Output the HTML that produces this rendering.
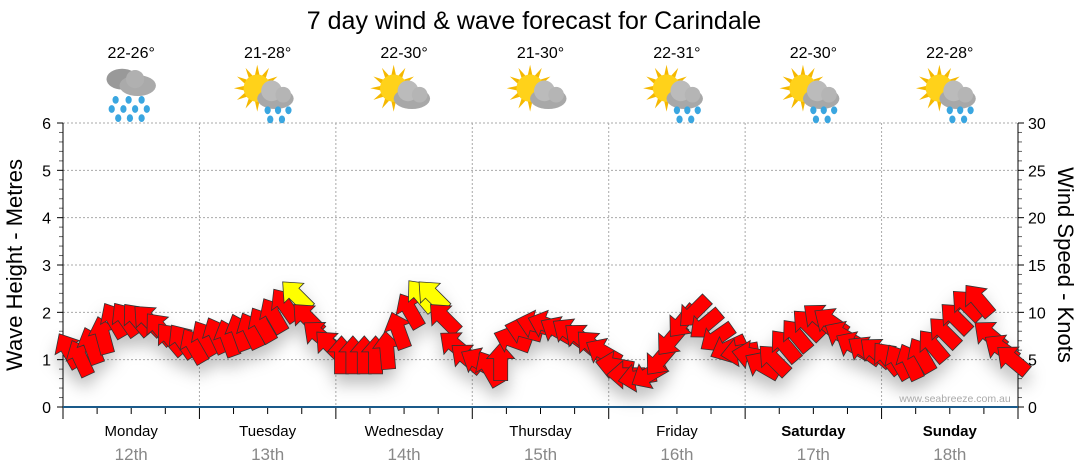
<!DOCTYPE html>
<html><head><meta charset="utf-8">
<style>
body{margin:0;background:#fff;}
svg{display:block;font-family:"Liberation Sans",sans-serif;}
</style></head>
<body>
<svg id="chart" width="1080" height="475" viewBox="0 0 1080 475">
<text x="534" y="29" font-size="25" text-anchor="middle">7 day wind &amp; wave forecast for Carindale</text>
<g id="grid"></g>
<g id="axes"></g>
<g id="icons"></g>
<g id="arrows" style="filter:drop-shadow(0 10px 8px rgba(0,0,0,0.25))"></g>
<text x="955" y="402" font-size="10.5" fill="#aaa" text-anchor="middle">www.seabreeze.com.au</text>
<text transform="translate(22,265) rotate(-90)" font-size="22" text-anchor="middle">Wave Height - Metres</text>
<text transform="translate(1058,265) rotate(90)" font-size="22" text-anchor="middle">Wind Speed - Knots</text>
</svg>
<script>
const days=["Monday","Tuesday","Wednesday","Thursday","Friday","Saturday","Sunday"];
const dates=["12th","13th","14th","15th","16th","17th","18th"];
const temps=["22-26°","21-28°","22-30°","21-30°","22-31°","22-30°","22-28°"];
const iconTypes=["rain","sunrain","suncloud","suncloud","sunrain","sunrain","sunrain"];
const leftTicks=[0,1,2,3,4,5,6];
const rightTicks=[0,5,10,15,20,25,30];
const windSpeed=[
6.0,5.2,6.5,7.6,9.2,9.3,9.3,9.2,8.3,7.2,7.0,6.5,
7.3,7.6,7.3,7.9,8.1,8.7,9.7,10.8,11.8,9.4,7.6,6.5,
5.5,5.5,5.5,5.5,6.0,8.1,10.2,11.8,11.8,9.4,6.5,5.2,
4.8,4.1,4.8,7.1,8.1,8.7,8.7,8.1,7.9,7.3,6.5,5.8,
4.4,3.4,3.1,3.4,5.0,7.1,9.0,10.0,8.7,7.3,6.2,5.8,
5.5,4.4,5.0,6.5,7.6,8.7,9.4,9.0,7.6,6.5,6.0,5.8,
5.2,4.8,4.8,5.5,6.5,7.9,9.4,10.8,11.3,7.6,6.2,5.0];
const windDir=[
-30,-25,-20,-15,-30,-35,-40,-45,-40,-40,-35,-30,
-30,-25,-20,-20,-25,-30,-30,-35,-45,-45,-50,-45,
0,0,0,0,-5,-20,-30,-40,-45,-45,-50,-50,
-60,-30,0,-70,-75,-75,-70,-60,-55,-50,-45,-60,
-80,-90,-100,-120,-140,-140,-140,-135,-130,-125,-115,-100,
-80,-60,-45,-40,-40,-45,-50,-55,-60,-60,-55,-50,
-40,-30,-25,-30,-40,-45,-45,-45,-40,-50,-55,-50];

const NS="http://www.w3.org/2000/svg";
const X0=63,X1=1018,Y0=407,Y1=123;
const dayW=(X1-X0)/7;
const perDay=12;
const yM=v=>Y0-(v/6)*(Y0-Y1);
const yK=v=>Y0-(v/30)*(Y0-Y1);
const xT=i=>X0+(i+0.5)*dayW/perDay;
function mk(tag,attrs,parent){const e=document.createElementNS(NS,tag);for(const k in attrs)e.setAttribute(k,attrs[k]);parent.appendChild(e);return e;}
const grid=document.getElementById('grid'),axes=document.getElementById('axes'),icons=document.getElementById('icons'),arrows=document.getElementById('arrows');

leftTicks.forEach(v=>{
  if(v>0){const l=mk('line',{x1:X0,x2:X1,y1:yM(v),y2:yM(v),stroke:'#aaa','stroke-dasharray':'2,2'},grid);
  
  }
  const t=mk('text',{x:X0-12,y:yM(v)+6,'font-size':16,'text-anchor':'end'},axes);t.textContent=v;
  
  
});
rightTicks.forEach(v=>{
  const t=mk('text',{x:X1+10,y:yK(v)+6,'font-size':16},axes);t.textContent=v;
  
  
});
for(let i=0;i<=30;i++){
  const y=Y0-i*(Y0-Y1)/30;const major=i%5==0;
  mk('line',{x1:X0-(major?6:4),x2:X0,y1:y,y2:y,stroke:major?'#000':'#666'},axes);
  mk('line',{x1:X1,x2:X1+(major?6:4),y1:y,y2:y,stroke:major?'#000':'#666'},axes);
}
mk('line',{x1:X0,x2:X0,y1:Y1,y2:Y0,stroke:'#000'},axes);
mk('line',{x1:X1,x2:X1,y1:Y1,y2:Y0,stroke:'#000'},axes);
for(let d=0;d<=7;d++){
  const x=X0+d*dayW;
  if(d>0&&d<7){const g=mk('line',{x1:x,x2:x,y1:Y1,y2:Y0,stroke:'#aaa','stroke-dasharray':'2,2'},grid);
  
  }
  mk('line',{x1:x,x2:x,y1:Y0,y2:Y0+12,stroke:'#000'},axes);
  if(d<7)for(let q=1;q<4;q++)mk('line',{x1:x+q*dayW/4,x2:x+q*dayW/4,y1:Y0,y2:Y0+7,stroke:'#000'},axes);
}
mk('line',{x1:X0,x2:X1,y1:Y0,y2:Y0,stroke:'#1a5a8a','stroke-width':2},axes);

days.forEach((d,i)=>{
  const cx=X0+(i+0.5)*dayW;
  const bold=i>=5;
  const t=mk('text',{x:cx,y:436,'font-size':15,'text-anchor':'middle','font-weight':bold?'bold':'normal'},axes);t.textContent=d;
  
  
  const t2=mk('text',{x:cx,y:460,'font-size':17,'text-anchor':'middle',fill:'#888'},axes);t2.textContent=dates[i];
  
  
  const t3=mk('text',{x:cx,y:58,'font-size':16,'text-anchor':'middle'},icons);t3.textContent=temps[i];
  
  
  const g=mk('g',{transform:`translate(${cx},96) scale(1.3)`},icons);
  
  
  const type=iconTypes[i];
  if(type!=='rain'){
    const sx=-8,sy=-6;
    for(let r=0;r<12;r++){const a=r*Math.PI/6;
      mk('polygon',{points:`${sx+Math.cos(a-0.18)*10},${sy+Math.sin(a-0.18)*10} ${sx+Math.cos(a)*18},${sy+Math.sin(a)*18} ${sx+Math.cos(a+0.18)*10},${sy+Math.sin(a+0.18)*10}`,fill:'#f5b800'},g);}
    mk('circle',{cx:sx,cy:sy,r:10.5,fill:'#ffd21a'},g);
    mk('ellipse',{cx:6,cy:2,rx:14,ry:8,fill:'#a8a8a8'},g);
    mk('circle',{cx:3,cy:-4,r:8,fill:'#bbb'},g);
    mk('circle',{cx:12,cy:-1,r:6,fill:'#b5b5b5'},g);
  } else {
    mk('ellipse',{cx:-7,cy:-13,rx:12,ry:8,fill:'#999'},g);
    mk('ellipse',{cx:5,cy:-8,rx:14,ry:8,fill:'#aaa'},g);
    mk('circle',{cx:3,cy:-13,r:7,fill:'#b0b0b0'},g);
  }
  const drops=type==='rain'?[[-12,3],[-2,3],[8,3],[-15,10],[-6,10],[3,10],[12,10],[-10,17],[-1,17],[8,17]]:
    type==='sunrain'?[[0,11],[8,11],[16,11],[2,18],[11,18]]:[];
  drops.forEach(p=>mk('ellipse',{cx:p[0],cy:p[1],rx:2.4,ry:3,fill:'#3aa6e0'},g));
});

windSpeed.forEach((v,i)=>{
  const x=xT(i),y=yK(v);
  const a=mk('polygon',{points:'0,-19 14,-3 7,-3 7,19 -7,19 -7,-3 -14,-3',
    transform:`translate(${x.toFixed(1)},${y.toFixed(1)}) rotate(${windDir[i]})`,
    fill:v>=11.5?'#ffff00':'#ff0000',stroke:'#333','stroke-width':0.8},arrows);
  
  
});
</script>
</body></html>
